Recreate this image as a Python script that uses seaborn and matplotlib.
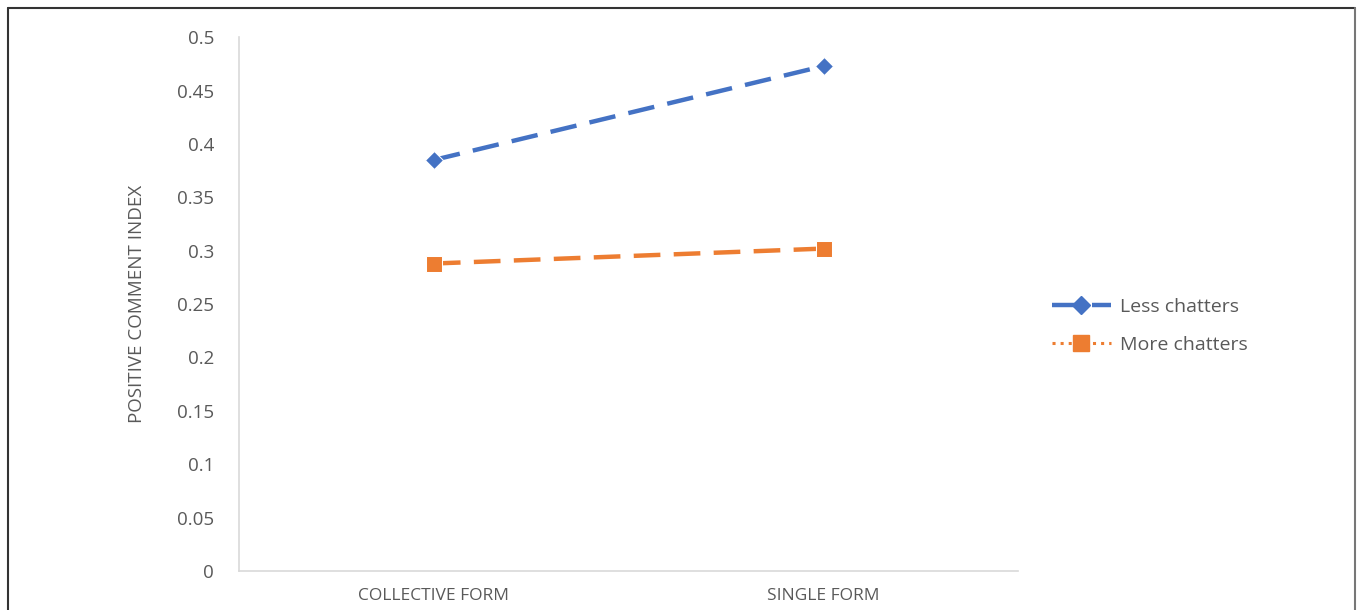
import pandas as pd
import matplotlib.pyplot as plt
import seaborn as sns
from matplotlib.lines import Line2D

# values
forms = ['COLLECTIVE FORM', 'SINGLE FORM']
less_chatters = [0.385, 0.473]
more_chatters = [0.288, 0.302]
y_ticks = [0, 0.05, 0.1, 0.15, 0.2, 0.25, 0.3, 0.35, 0.4, 0.45, 0.5]
y_tick_labels = ['0', '0.05', '0.1', '0.15', '0.2', '0.25', '0.3', '0.35', '0.4', '0.45', '0.5']

df = pd.DataFrame({
    'Form': forms * 2,
    'Index': less_chatters + more_chatters,
    'Group': ['Less chatters'] * 2 + ['More chatters'] * 2,
})

blue = '#4472C4'
orange = '#ED7D31'
grey = '#595959'

sns.set_style('white')
plt.rcParams['font.family'] = ['Open Sans', 'DejaVu Sans']

fig = plt.figure(figsize=(13.58, 6.10), dpi=100)
ax = fig.add_axes([0.176, 0.064, 0.574, 0.875])

sns.lineplot(
    data=df, x='Form', y='Index', hue='Group',
    palette={'Less chatters': blue, 'More chatters': orange},
    linewidth=3.2, ax=ax, legend=False,
)
for line in ax.get_lines():
    line.set_dashes([6, 3])
ax.lines[0].set_marker('D')
ax.lines[0].set_markersize(9)
ax.lines[1].set_marker('s')
ax.lines[1].set_markersize(11)

ax.set_xlim(-0.5, 1.5)
ax.set_ylim(0, 0.5)
ax.set_yticks(y_ticks)
ax.set_yticklabels(y_tick_labels)
ax.tick_params(axis='y', labelsize=13.5, colors=grey, length=0, pad=18)
ax.tick_params(axis='x', labelsize=12.5, colors=grey, length=0, pad=12)
ax.set_xlabel('')
ax.set_ylabel('POSITIVE COMMENT INDEX', fontsize=13.5, color=grey, labelpad=22)

for side in ['top', 'right']:
    ax.spines[side].set_visible(False)
for side in ['left', 'bottom']:
    ax.spines[side].set_color('#D9D9D9')
    ax.spines[side].set_linewidth(1.2)

handles = [
    Line2D([], [], color=blue, lw=3.2, dashes=[6, 3], marker='D', markersize=9),
    Line2D([], [], color=orange, lw=2.2, linestyle=':', marker='s', markersize=11),
]
fig.legend(handles, ['Less chatters', 'More chatters'], loc='center left',
           bbox_to_anchor=(0.762, 0.466), frameon=False, fontsize=14,
           labelcolor=grey, handlelength=3.0, handletextpad=0.5, labelspacing=1.05)

# frame around the chart area
fig.add_artist(Line2D([0.006, 0.006], [0, 0.987], transform=fig.transFigure, color='#333333', lw=1.5))
fig.add_artist(Line2D([0.006, 0.998], [0.987, 0.987], transform=fig.transFigure, color='#333333', lw=1.5))
fig.add_artist(Line2D([0.998, 0.998], [0, 0.987], transform=fig.transFigure, color='#777777', lw=1.5))

fig.savefig('out.png', dpi=100)
